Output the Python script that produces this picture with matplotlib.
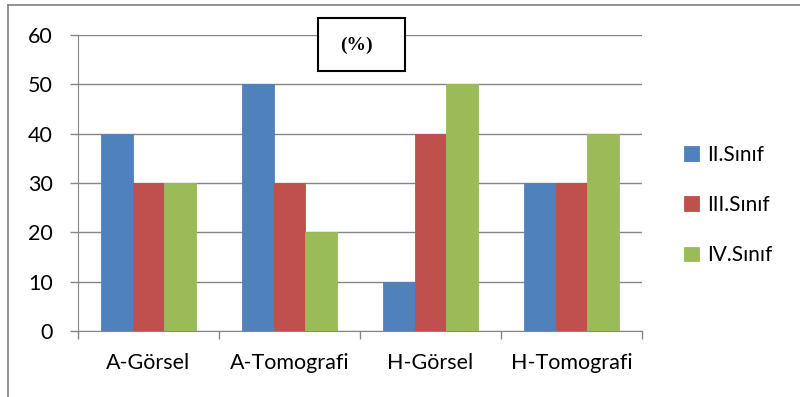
import matplotlib.pyplot as plt
from matplotlib.patches import Rectangle
from matplotlib.lines import Line2D
import numpy as np

categories = ["A-Görsel", "A-Tomografi", "H-Görsel", "H-Tomografi"]
series_names = ["II.Sınıf", "III.Sınıf", "IV.Sınıf"]
sinif2 = [40, 50, 10, 30]
sinif3 = [30, 30, 40, 30]
sinif4 = [30, 20, 50, 40]
colors = ["#4F81BD", "#C0504D", "#9BBB59"]

plt.rcParams["font.family"] = ["Lato", "DejaVu Sans"]

fig = plt.figure(figsize=(8, 3.97), dpi=100)
ax = fig.add_axes([0.0975, 0.166, 0.705, 0.746])

x = np.arange(len(categories))
w = 0.223
for i, (vals, name) in enumerate(zip([sinif2, sinif3, sinif4], series_names)):
    ax.bar(x + (i - 1) * w, vals, w, color=colors[i], label=name,
           edgecolor=colors[i], linewidth=0.6, zorder=3)

ax.set_xlim(-0.5, 3.5)
ax.set_ylim(0, 60)
ax.set_yticks(range(0, 61, 10))
ax.yaxis.grid(True, color="#868686", linewidth=1, zorder=0)
ax.set_xticks(x)
ax.set_xticklabels(categories)
ax.set_xticks(np.arange(-0.5, 4, 1), minor=True)
ax.tick_params(axis="x", which="major", length=0, pad=16, labelsize=15.5)
ax.tick_params(axis="x", which="minor", length=6, color="#868686", width=1)
ax.tick_params(axis="y", length=6, color="#868686", width=1, labelsize=15.5, pad=12)

for s in ["top", "right"]:
    ax.spines[s].set_visible(False)
ax.spines["left"].set_color("#868686")
ax.spines["bottom"].set_color("#868686")

fig.legend(loc="center left", bbox_to_anchor=(676 / 800, 1 - 205 / 397), frameon=False,
           fontsize=15, handlelength=0.7, handleheight=0.7,
           labelspacing=1.45, handletextpad=0.4, borderaxespad=0)

box = Rectangle((318 / 800, 1 - 71 / 397), 87 / 800, 53 / 397, transform=fig.transFigure,
                facecolor="white", edgecolor="black", linewidth=1.5, zorder=4)
fig.add_artist(box)
fig.text(356 / 800, 1 - 45 / 397, "(%)", ha="center", va="center", fontsize=14,
         fontweight="bold", family="Liberation Serif", zorder=6)

fig.add_artist(Line2D([8 / 800, 8 / 800], [0, 1 - 4.5 / 397], transform=fig.transFigure,
                      color="#808080", linewidth=1.2))
fig.add_artist(Line2D([8 / 800, 1], [1 - 4.5 / 397, 1 - 4.5 / 397], transform=fig.transFigure,
                      color="#808080", linewidth=1.2))

fig.savefig("out.png")
